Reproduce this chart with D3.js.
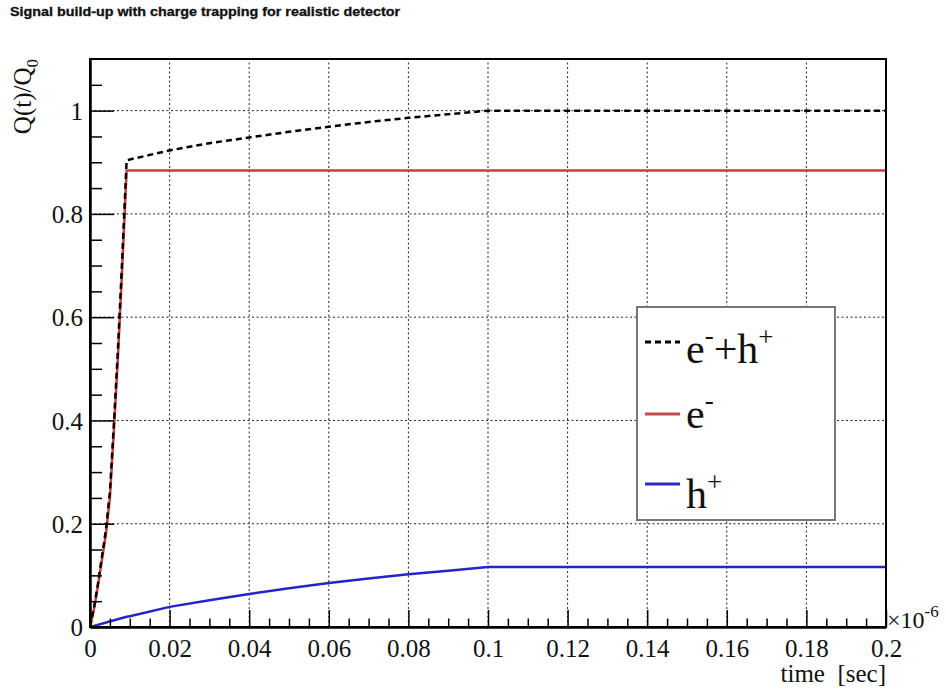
<!DOCTYPE html>
<html>
<head>
<meta charset="utf-8">
<script src="https://cdn.jsdelivr.net/npm/d3@7"></script>
<style>
  html, body { margin: 0; padding: 0; background: #fff; }
  svg { display: block; }
</style>
</head>
<body>
<svg id="chart" width="946" height="693"></svg>
<script>
// Time axis in units of 1e-6 s; charge fraction Q(t)/Q0.
const xTickValues = [0, 0.02, 0.04, 0.06, 0.08, 0.1, 0.12, 0.14, 0.16, 0.18, 0.2];
const xTickLabels = ["0", "0.02", "0.04", "0.06", "0.08", "0.1", "0.12", "0.14", "0.16", "0.18", "0.2"];
const yTickValues = [0, 0.2, 0.4, 0.6, 0.8, 1];
const yTickLabels = ["0", "0.2", "0.4", "0.6", "0.8", "1"];

// Electron contribution
const tElectron = [0, 0.001, 0.002, 0.003, 0.004, 0.005, 0.006, 0.007, 0.008, 0.0092, 0.2];
const qElectron = [0, 0.035, 0.08, 0.13, 0.18, 0.25, 0.38, 0.52, 0.68, 0.884, 0.884];

// Hole contribution
const tHole = [0, 0.0092, 0.01, 0.02, 0.03, 0.04, 0.05, 0.06, 0.07, 0.08, 0.09, 0.1, 0.2];
const qHole = [0, 0.020, 0.021, 0.039, 0.052, 0.064, 0.075, 0.085, 0.094, 0.102, 0.109, 0.116, 0.116];

// Total signal e- + h+
const tTotal = [0, 0.001, 0.002, 0.003, 0.004, 0.005, 0.006, 0.007, 0.008, 0.0092, 0.02, 0.03, 0.04, 0.05, 0.06, 0.07, 0.08, 0.09, 0.1, 0.2];
const qTotal = [0, 0.037, 0.084, 0.136, 0.188, 0.261, 0.393, 0.535, 0.697, 0.904, 0.923, 0.937, 0.948, 0.959, 0.969, 0.978, 0.986, 0.993, 1.0, 1.0];

const svg = d3.select("#chart");
const plotLeft = 90, plotRight = 886, plotTop = 59, plotBottom = 627;

const x = d3.scaleLinear().domain([0, 0.2]).range([plotLeft, plotRight]);
const y = d3.scaleLinear().domain([0, 1.1]).range([plotBottom, plotTop]);

const serif = "'Liberation Serif', 'Times New Roman', serif";

// Title
svg.append("text")
  .attr("x", 10).attr("y", 16)
  .attr("font-family", "'Liberation Sans', Arial, sans-serif")
  .attr("font-weight", "bold")
  .attr("font-size", 12)
  .attr("textLength", 390)
  .attr("lengthAdjust", "spacingAndGlyphs")
  .attr("fill", "#111")
  .attr("stroke", "#111").attr("stroke-width", 0.3)
  .text("Signal build-up with charge trapping for realistic detector");

// Grid
const grid = svg.append("g").attr("stroke", "#222").attr("stroke-width", 1)
  .attr("stroke-dasharray", "2,2.5");
grid.selectAll("line.gx").data(xTickValues.filter(v => v > 0 && v < 0.2)).join("line")
  .attr("x1", d => x(d)).attr("x2", d => x(d))
  .attr("y1", plotBottom).attr("y2", plotTop);
grid.selectAll("line.gy").data(yTickValues.filter(v => v > 0)).join("line")
  .attr("y1", d => y(d)).attr("y2", d => y(d))
  .attr("x1", plotLeft).attr("x2", plotRight);

// Curves
svg.append("defs").append("clipPath").attr("id", "plotclip")
  .append("rect").attr("x", plotLeft).attr("y", plotTop)
  .attr("width", plotRight - plotLeft).attr("height", plotBottom - plotTop);

const plot = svg.append("g").attr("clip-path", "url(#plotclip)");
const line = d3.line().x(d => x(d[0])).y(d => y(d[1]));

plot.append("path")
  .datum(tHole.map((t, i) => [t, qHole[i]]))
  .attr("fill", "none").attr("stroke", "#2424c8").attr("stroke-width", 2.5)
  .attr("d", line);

plot.append("path")
  .datum(tElectron.map((t, i) => [t, qElectron[i]]))
  .attr("fill", "none").attr("stroke", "#d03a3a").attr("stroke-width", 2.5)
  .attr("d", line);

plot.append("path")
  .datum(tTotal.map((t, i) => [t, qTotal[i]]))
  .attr("fill", "none").attr("stroke", "#000").attr("stroke-width", 2.5)
  .attr("stroke-dasharray", "6,4")
  .attr("d", line);

// Frame
svg.append("rect")
  .attr("x", plotLeft).attr("y", plotTop)
  .attr("width", plotRight - plotLeft).attr("height", plotBottom - plotTop)
  .attr("fill", "none").attr("stroke", "#000").attr("stroke-width", 2);

// X axis: major and minor ticks pointing inward
const xAxis = d3.axisBottom(x).tickValues(xTickValues)
  .tickFormat((d, i) => xTickLabels[i]).tickSizeInner(-17).tickSizeOuter(0).tickPadding(6);
const gx = svg.append("g").attr("transform", `translate(0,${plotBottom})`).call(xAxis);
gx.select(".domain").attr("stroke-width", 2.5);
gx.selectAll(".tick line").attr("stroke-width", 1.5);
gx.selectAll(".tick text").attr("font-family", serif).attr("font-size", 25)
  .attr("fill", "#111").attr("dy", "0.95em");

const xMinor = d3.range(0, 0.2001, 0.005).filter(v => Math.abs(v / 0.02 - Math.round(v / 0.02)) > 1e-6);
const gxm = svg.append("g").attr("transform", `translate(0,${plotBottom})`)
  .call(d3.axisBottom(x).tickValues(xMinor).tickFormat("").tickSizeInner(-8.5).tickSizeOuter(0));
gxm.select(".domain").remove();
gxm.selectAll(".tick line").attr("stroke-width", 1.5);

// Y axis
const yAxis = d3.axisLeft(y).tickValues(yTickValues)
  .tickFormat((d, i) => yTickLabels[i]).tickSizeInner(-24).tickSizeOuter(0).tickPadding(7);
const gy = svg.append("g").attr("transform", `translate(${plotLeft},0)`).call(yAxis);
gy.select(".domain").attr("stroke-width", 2.5);
gy.selectAll(".tick line").attr("stroke-width", 1.5);
gy.selectAll(".tick text").attr("font-family", serif).attr("font-size", 25)
  .attr("fill", "#111").attr("dy", "0.35em");

const yMinor = d3.range(0, 1.1, 0.05).filter(v => Math.abs(v / 0.2 - Math.round(v / 0.2)) > 1e-6);
const gym = svg.append("g").attr("transform", `translate(${plotLeft},0)`)
  .call(d3.axisLeft(y).tickValues(yMinor).tickFormat("").tickSizeInner(-12).tickSizeOuter(0));
gym.select(".domain").remove();
gym.selectAll(".tick line").attr("stroke-width", 1.5);

// Axis titles
const xExp = svg.append("text").attr("x", 887).attr("y", 628)
  .attr("font-family", serif).attr("font-size", 24).attr("fill", "#111");
xExp.append("tspan").text("×10");
xExp.append("tspan").attr("dy", -11).attr("font-size", 17).text("-6");

svg.append("text").attr("x", 886).attr("y", 682)
  .attr("text-anchor", "end").attr("font-family", serif).attr("font-size", 25)
  .attr("fill", "#111").style("white-space", "pre")
  .text("time  [sec]");

const yTitle = svg.append("text")
  .attr("transform", `translate(31,${plotTop}) rotate(-90)`)
  .attr("text-anchor", "end").attr("font-family", serif).attr("font-size", 25)
  .attr("fill", "#111");
yTitle.append("tspan").text("Q(t)/Q");
yTitle.append("tspan").attr("dy", 7).attr("font-size", 17).text("0");

// Legend
const legend = svg.append("g");
legend.append("rect")
  .attr("x", 637).attr("y", 307).attr("width", 198).attr("height", 213)
  .attr("fill", "#fff").attr("stroke", "#777").attr("stroke-width", 2);

const legendItems = [
  { color: "#000", dash: "6,4", ly: 342 },
  { color: "#c44a4a", dash: null, ly: 414 },
  { color: "#2a2ac4", dash: null, ly: 484 }
];
legendItems.forEach(it => {
  legend.append("line")
    .attr("x1", 645).attr("x2", 680).attr("y1", it.ly).attr("y2", it.ly)
    .attr("stroke", it.color).attr("stroke-width", 3)
    .attr("stroke-dasharray", it.dash);
});

function legendText(by) {
  return legend.append("text").attr("x", 686).attr("y", by)
    .attr("font-family", serif).attr("font-size", 42).attr("fill", "#111");
}
const t1 = legendText(363);
t1.append("tspan").text("e");
t1.append("tspan").attr("dy", -19).attr("font-size", 27).text("-");
t1.append("tspan").attr("dy", 19).text("+h");
t1.append("tspan").attr("dy", -17).attr("font-size", 27).text("+");

const t2 = legendText(428);
t2.append("tspan").text("e");
t2.append("tspan").attr("dy", -19).attr("font-size", 27).text("-");

const t3 = legendText(508);
t3.append("tspan").text("h");
t3.append("tspan").attr("dy", -17).attr("font-size", 27).text("+");
</script>
</body>
</html>
